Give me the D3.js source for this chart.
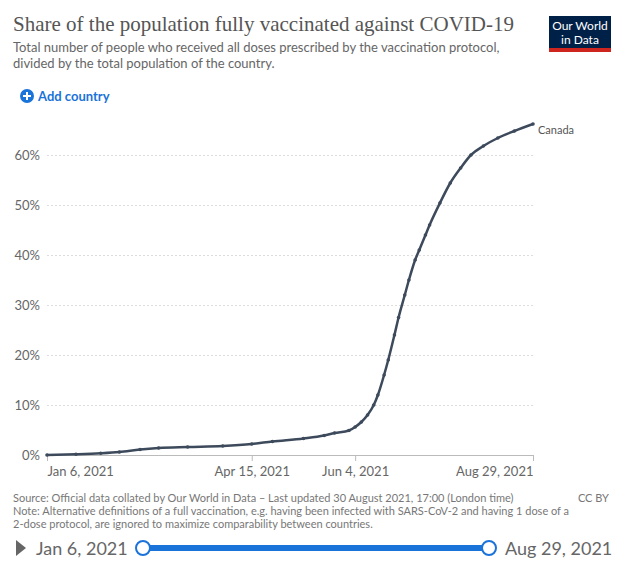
<!DOCTYPE html>
<html><head><meta charset="utf-8">
<script src="https://cdn.jsdelivr.net/npm/d3@7"></script>
<style>body{margin:0;background:#fff}text{font-family:Lato,"Open Sans",sans-serif}</style>
</head><body><svg id="chart"></svg>
<script>
const dates = ["2021-01-06","2021-01-20","2021-02-01","2021-02-10","2021-02-20","2021-03-01","2021-03-15","2021-04-01","2021-04-15","2021-04-25","2021-05-10","2021-05-20","2021-05-25","2021-06-01","2021-06-04","2021-06-07","2021-06-10","2021-06-13","2021-06-15","2021-06-18","2021-06-20","2021-06-23","2021-06-25","2021-06-28","2021-06-30","2021-07-03","2021-07-05","2021-07-08","2021-07-10","2021-07-15","2021-07-20","2021-07-25","2021-07-30","2021-08-05","2021-08-12","2021-08-20","2021-08-29"];
const shares = [0,0.15,0.35,0.6,1.1,1.4,1.6,1.8,2.2,2.7,3.3,3.9,4.4,4.9,5.6,6.6,8,10,12,16,19,24,27.5,32,35,39,41,44,46,50.4,54.4,57.4,60,61.8,63.4,64.8,66.2];
const yTicks = [0,10,20,30,40,50,60];
const xTickDates = ["2021-01-06","2021-04-15","2021-06-04","2021-08-29"];
const country = "Canada";

const parse = d3.timeParse("%Y-%m-%d");
const fmt = d3.timeFormat("%b %-d, %Y");
const data = dates.map((d,i)=>({date:parse(d),value:shares[i]}));

const svg = d3.select("#chart").attr("width",627).attr("height",564);

svg.append("text").attr("x",13).attr("y",31).text("Share of the population fully vaccinated against COVID-19")
  .style("font-family","'Liberation Serif',serif").style("font-size","21px").attr("fill","#555");
svg.append("text").attr("x",13).attr("y",52).text("Total number of people who received all doses prescribed by the vaccination protocol,")
  .style("font-size","13px").attr("fill","#666");
svg.append("text").attr("x",13).attr("y",68).text("divided by the total population of the country.")
  .style("font-size","13px").attr("fill","#666");

// logo
svg.append("rect").attr("x",549).attr("y",16).attr("width",62).attr("height",33).attr("fill","#002147");
svg.append("rect").attr("x",549).attr("y",48).attr("width",62).attr("height",4).attr("fill","#ce261e");
svg.append("text").attr("x",580).attr("y",30).attr("text-anchor","middle").attr("fill","#fff").style("font-size","12px").text("Our World");
svg.append("text").attr("x",580).attr("y",44).attr("text-anchor","middle").attr("fill","#fff").style("font-size","12px").text("in Data");

// add country
svg.append("circle").attr("cx",27).attr("cy",96).attr("r",7).attr("fill","#1a73d9");
svg.append("path").attr("d","M23,96H31M27,92V100").attr("stroke","#fff").attr("stroke-width",2);
svg.append("text").attr("x",38).attr("y",101).text("Add country").attr("fill","#1a73d9").style("font-size","13px").style("font-weight","bold");

const x = d3.scaleTime().domain([parse("2021-01-06"),parse("2021-08-29")]).range([47,533]);
const y = d3.scaleLinear().domain([0,60]).range([455,155]);

const gy = svg.append("g").attr("transform","translate(47,0)")
  .call(d3.axisLeft(y).tickValues(yTicks).tickFormat(d=>d+"%").tickSize(-486));
gy.select(".domain").remove();
gy.selectAll("line").attr("stroke","#ddd").attr("stroke-dasharray","2,2");
gy.selectAll("text").attr("fill","#666").style("font-size","13px").attr("x",-7);

const gx = svg.append("g").attr("transform","translate(0,455)")
  .call(d3.axisBottom(x).tickValues(xTickDates.map(parse)).tickFormat(fmt).tickSizeOuter(0).tickSize(6));
gx.select(".domain").attr("stroke","#bbb");
gx.selectAll("line").attr("stroke","#bbb");
gx.selectAll("text").attr("fill","#666").style("font-size","13px").attr("dy","0.9em")
  .attr("text-anchor",(d,i,n)=>i===0?"start":i===n.length-1?"end":"middle");

const line = d3.line().x(d=>x(d.date)).y(d=>y(d.value)).curve(d3.curveMonotoneX);
svg.append("path").datum(data).attr("d",line).attr("fill","none").attr("stroke","#3d4a5c").attr("stroke-width",2.5);
svg.selectAll(".pt").data(data).enter().append("circle").attr("cx",d=>x(d.date)).attr("cy",d=>y(d.value)).attr("r",1.8).attr("fill","#3d4a5c");
const last = data[data.length-1];
svg.append("text").attr("x",x(last.date)+5).attr("y",y(last.value)+10).text(country).attr("fill","#555").style("font-size","11px");

const foot = ["Source: Official data collated by Our World in Data – Last updated 30 August 2021, 17:00 (London time)",
  "Note: Alternative definitions of a full vaccination, e.g. having been infected with SARS-CoV-2 and having 1 dose of a",
  "2-dose protocol, are ignored to maximize comparability between countries."];
foot.forEach((t,i)=>svg.append("text").attr("x",13).attr("y",502+i*13).text(t).attr("fill","#777").style("font-size","11px"));
svg.append("text").attr("x",609).attr("y",502).attr("text-anchor","end").text("CC BY").attr("fill","#777").style("font-size","11px");

// timeline slider
svg.append("path").attr("d","M16,540L26,548L16,556Z").attr("fill","#666");
svg.append("text").attr("x",36).attr("y",555).text(fmt(x.domain()[0])).attr("fill","#666").style("font-size","18px");
svg.append("line").attr("x1",143).attr("x2",489).attr("y1",548).attr("y2",548).attr("stroke","#1a73d9").attr("stroke-width",6);
[143,489].forEach(cx=>svg.append("circle").attr("cx",cx).attr("cy",548).attr("r",7).attr("fill","#fff").attr("stroke","#1a73d9").attr("stroke-width",2));
svg.append("text").attr("x",505).attr("y",555).text(fmt(x.domain()[1])).attr("fill","#666").style("font-size","18px");
</script></body></html>
